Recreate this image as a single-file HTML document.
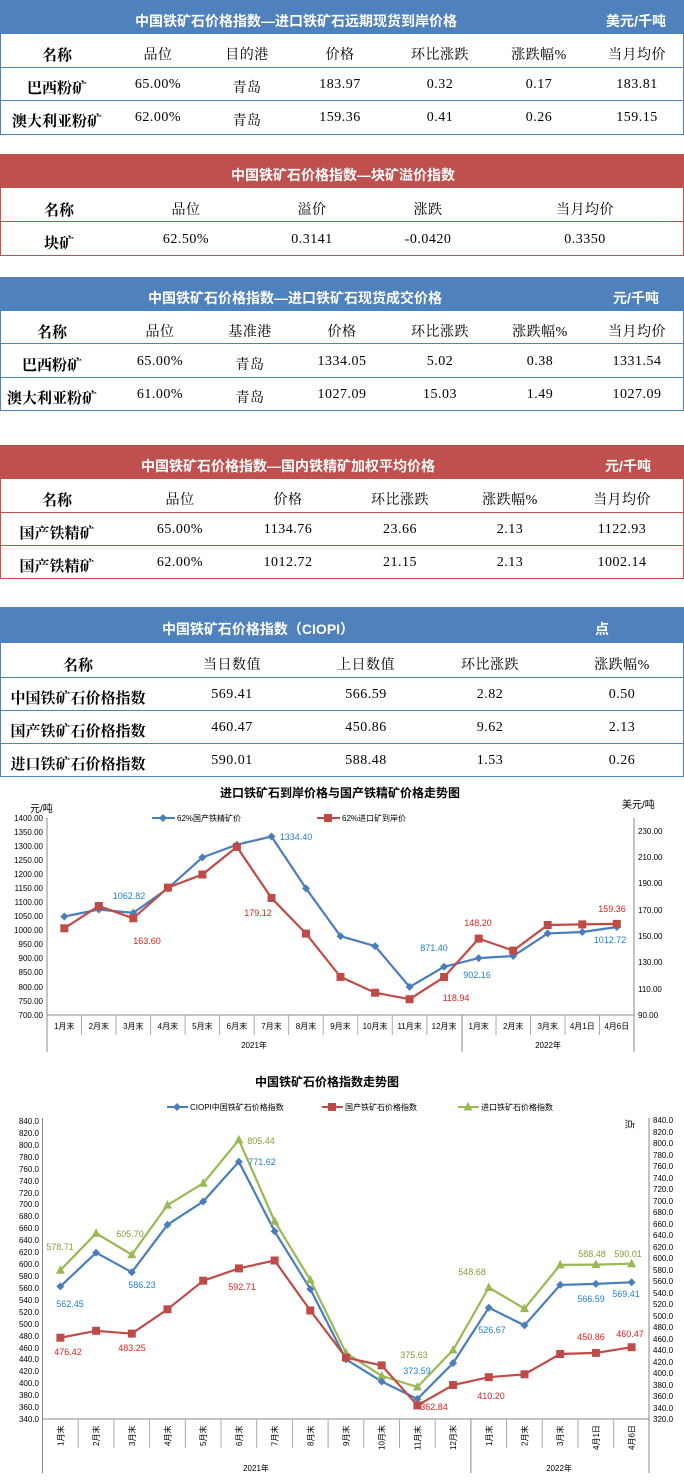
<!DOCTYPE html>
<html><head><meta charset="utf-8"><style>
*{margin:0;padding:0;box-sizing:border-box}
body{width:684px;height:1482px;background:#fff;position:relative;overflow:hidden;font-family:"Liberation Serif","Noto Serif CJK SC",serif;color:#000}
.hb{position:absolute;left:0;width:684px;background:#4f81bd}
.hr{position:absolute;left:0;width:684px;background:#c0504d}
.ht{position:absolute;color:#fff;font-family:"Liberation Sans","Noto Sans CJK SC",sans-serif;font-weight:bold;font-size:14px;transform:translateX(-50%);white-space:nowrap;margin-top:2px}
.ln{position:absolute;left:0;width:684px;height:1px}
.lb{background:#4f81bd}.lr{background:#c0504d}
.vb{position:absolute;width:1px}
.t{position:absolute;transform:translateX(-50%);white-space:nowrap;font-size:14px;margin-top:2px;letter-spacing:0.5px}
.b{font-weight:bold;font-size:15px;letter-spacing:0}
</style></head><body>

<!-- T1 -->
<div class="hb" style="top:0;height:34px"></div>
<div class="ht" style="left:296px;top:9px">中国铁矿石价格指数—进口铁矿石远期现货到岸价格</div>
<div class="ht" style="left:636px;top:9px">美元/千吨</div>
<div class="ln lb" style="top:67px"></div><div class="ln lb" style="top:100px"></div><div class="ln lb" style="top:134px"></div>
<div class="vb lb" style="left:0;top:34px;height:100px"></div><div class="vb lb" style="left:683px;top:34px;height:100px"></div>
<div class="t b" style="left:57px;top:42px">名称</div><div class="t" style="left:158px;top:42px">品位</div><div class="t" style="left:247px;top:42px">目的港</div><div class="t" style="left:340px;top:42px">价格</div><div class="t" style="left:440px;top:42px">环比涨跌</div><div class="t" style="left:539px;top:42px">涨跌幅%</div><div class="t" style="left:637px;top:42px">当月均价</div>
<div class="t b" style="left:57px;top:75px">巴西粉矿</div><div class="t" style="left:158px;top:75px">65.00%</div><div class="t" style="left:247px;top:75px">青岛</div><div class="t" style="left:340px;top:75px">183.97</div><div class="t" style="left:440px;top:75px">0.32</div><div class="t" style="left:539px;top:75px">0.17</div><div class="t" style="left:637px;top:75px">183.81</div>
<div class="t b" style="left:57px;top:108px">澳大利亚粉矿</div><div class="t" style="left:158px;top:108px">62.00%</div><div class="t" style="left:247px;top:108px">青岛</div><div class="t" style="left:340px;top:108px">159.36</div><div class="t" style="left:440px;top:108px">0.41</div><div class="t" style="left:539px;top:108px">0.26</div><div class="t" style="left:637px;top:108px">159.15</div>

<!-- T2 -->
<div class="hr" style="top:154px;height:34px"></div>
<div class="ht" style="left:343px;top:163px">中国铁矿石价格指数—块矿溢价指数</div>
<div class="ln lr" style="top:221px"></div><div class="ln lr" style="top:255px"></div>
<div class="vb lr" style="left:0;top:188px;height:67px"></div><div class="vb lr" style="left:683px;top:188px;height:67px"></div>
<div class="t b" style="left:59px;top:197px">名称</div><div class="t" style="left:186px;top:197px">品位</div><div class="t" style="left:312px;top:197px">溢价</div><div class="t" style="left:428px;top:197px">涨跌</div><div class="t" style="left:585px;top:197px">当月均价</div>
<div class="t b" style="left:59px;top:230px">块矿</div><div class="t" style="left:186px;top:230px">62.50%</div><div class="t" style="left:312px;top:230px">0.3141</div><div class="t" style="left:428px;top:230px">-0.0420</div><div class="t" style="left:585px;top:230px">0.3350</div>

<!-- T3 -->
<div class="hb" style="top:277px;height:34px"></div>
<div class="ht" style="left:295px;top:286px">中国铁矿石价格指数—进口铁矿石现货成交价格</div>
<div class="ht" style="left:636px;top:286px">元/千吨</div>
<div class="ln lb" style="top:343px"></div><div class="ln lb" style="top:377px"></div><div class="ln lb" style="top:410px"></div>
<div class="vb lb" style="left:0;top:311px;height:100px"></div><div class="vb lb" style="left:683px;top:311px;height:100px"></div>
<div class="t b" style="left:52px;top:319px">名称</div><div class="t" style="left:160px;top:319px">品位</div><div class="t" style="left:250px;top:319px">基准港</div><div class="t" style="left:342px;top:319px">价格</div><div class="t" style="left:440px;top:319px">环比涨跌</div><div class="t" style="left:540px;top:319px">涨跌幅%</div><div class="t" style="left:637px;top:319px">当月均价</div>
<div class="t b" style="left:52px;top:352px">巴西粉矿</div><div class="t" style="left:160px;top:352px">65.00%</div><div class="t" style="left:250px;top:352px">青岛</div><div class="t" style="left:342px;top:352px">1334.05</div><div class="t" style="left:440px;top:352px">5.02</div><div class="t" style="left:540px;top:352px">0.38</div><div class="t" style="left:637px;top:352px">1331.54</div>
<div class="t b" style="left:52px;top:385px">澳大利亚粉矿</div><div class="t" style="left:160px;top:385px">61.00%</div><div class="t" style="left:250px;top:385px">青岛</div><div class="t" style="left:342px;top:385px">1027.09</div><div class="t" style="left:440px;top:385px">15.03</div><div class="t" style="left:540px;top:385px">1.49</div><div class="t" style="left:637px;top:385px">1027.09</div>

<!-- T4 -->
<div class="hr" style="top:445px;height:34px"></div>
<div class="ht" style="left:288px;top:454px">中国铁矿石价格指数—国内铁精矿加权平均价格</div>
<div class="ht" style="left:628px;top:454px">元/千吨</div>
<div class="ln lr" style="top:512px"></div><div class="ln lr" style="top:545px"></div><div class="ln lr" style="top:578px"></div>
<div class="vb lr" style="left:0;top:479px;height:100px"></div><div class="vb lr" style="left:683px;top:479px;height:100px"></div>
<div class="t b" style="left:57px;top:487px">名称</div><div class="t" style="left:180px;top:487px">品位</div><div class="t" style="left:288px;top:487px">价格</div><div class="t" style="left:400px;top:487px">环比涨跌</div><div class="t" style="left:510px;top:487px">涨跌幅%</div><div class="t" style="left:622px;top:487px">当月均价</div>
<div class="t b" style="left:57px;top:520px">国产铁精矿</div><div class="t" style="left:180px;top:520px">65.00%</div><div class="t" style="left:288px;top:520px">1134.76</div><div class="t" style="left:400px;top:520px">23.66</div><div class="t" style="left:510px;top:520px">2.13</div><div class="t" style="left:622px;top:520px">1122.93</div>
<div class="t b" style="left:57px;top:553px">国产铁精矿</div><div class="t" style="left:180px;top:553px">62.00%</div><div class="t" style="left:288px;top:553px">1012.72</div><div class="t" style="left:400px;top:553px">21.15</div><div class="t" style="left:510px;top:553px">2.13</div><div class="t" style="left:622px;top:553px">1002.14</div>

<!-- T5 -->
<div class="hb" style="top:607px;height:36px"></div>
<div class="ht" style="left:258px;top:617px">中国铁矿石价格指数（CIOPI）</div>
<div class="ht" style="left:602px;top:617px">点</div>
<div class="ln lb" style="top:677px"></div><div class="ln lb" style="top:710px"></div><div class="ln lb" style="top:743px"></div><div class="ln lb" style="top:776px"></div>
<div class="vb lb" style="left:0;top:643px;height:134px"></div><div class="vb lb" style="left:683px;top:643px;height:134px"></div>
<div class="t b" style="left:78px;top:652px">名称</div><div class="t" style="left:232px;top:652px">当日数值</div><div class="t" style="left:366px;top:652px">上日数值</div><div class="t" style="left:490px;top:652px">环比涨跌</div><div class="t" style="left:622px;top:652px">涨跌幅%</div>
<div class="t b" style="left:78px;top:685px">中国铁矿石价格指数</div><div class="t" style="left:232px;top:685px">569.41</div><div class="t" style="left:366px;top:685px">566.59</div><div class="t" style="left:490px;top:685px">2.82</div><div class="t" style="left:622px;top:685px">0.50</div>
<div class="t b" style="left:78px;top:718px">国产铁矿石价格指数</div><div class="t" style="left:232px;top:718px">460.47</div><div class="t" style="left:366px;top:718px">450.86</div><div class="t" style="left:490px;top:718px">9.62</div><div class="t" style="left:622px;top:718px">2.13</div>
<div class="t b" style="left:78px;top:751px">进口铁矿石价格指数</div><div class="t" style="left:232px;top:751px">590.01</div><div class="t" style="left:366px;top:751px">588.48</div><div class="t" style="left:490px;top:751px">1.53</div><div class="t" style="left:622px;top:751px">0.26</div>

<svg width="684" height="1482" style="position:absolute;left:0;top:0" font-family="Liberation Sans,Noto Sans CJK SC,sans-serif">
<defs>
<path id="dm" d="M0,-4L4,0L0,4L-4,0Z" fill="#4a7ebb"/>
<rect id="sq" x="-4" y="-4" width="8" height="8" fill="#be4b48"/>
<path id="tr" d="M0,-5L4.5,3.5L-4.5,3.5Z" fill="#98b954"/>
</defs>
<!-- Chart 1 -->
<text x="340" y="797" font-size="12" font-weight="bold" text-anchor="middle">进口铁矿石到岸价格与国产铁精矿价格走势图</text>
<text x="30" y="812" font-size="10">元/吨</text>
<text x="622" y="808" font-size="10">美元/吨</text>
<line x1="152" y1="818" x2="175" y2="818" stroke="#4a7ebb" stroke-width="2"/><use href="#dm" x="163" y="818"/>
<text x="177" y="821" font-size="8">62%国产铁精矿价</text>
<line x1="317" y1="818" x2="340" y2="818" stroke="#be4b48" stroke-width="2"/><use href="#sq" x="328" y="818"/>
<text x="342" y="821" font-size="8">62%进口矿到岸价</text>
<g stroke="#888" stroke-width="1" fill="none">
<line x1="47" y1="818" x2="47" y2="1052"/><line x1="634" y1="818" x2="634" y2="1052"/><line x1="47" y1="1015" x2="634" y2="1015"/>
<line x1="462" y1="1015" x2="462" y2="1052"/>
</g>
<g stroke="#aaa" stroke-width="1">
<line x1="81.5" y1="1015" x2="81.5" y2="1035"/><line x1="116" y1="1015" x2="116" y2="1035"/><line x1="150.6" y1="1015" x2="150.6" y2="1035"/><line x1="185.1" y1="1015" x2="185.1" y2="1035"/><line x1="219.6" y1="1015" x2="219.6" y2="1035"/><line x1="254.2" y1="1015" x2="254.2" y2="1035"/><line x1="288.7" y1="1015" x2="288.7" y2="1035"/><line x1="323.2" y1="1015" x2="323.2" y2="1035"/><line x1="357.8" y1="1015" x2="357.8" y2="1035"/><line x1="392.3" y1="1015" x2="392.3" y2="1035"/><line x1="426.8" y1="1015" x2="426.8" y2="1035"/><line x1="496" y1="1015" x2="496" y2="1035"/><line x1="530.5" y1="1015" x2="530.5" y2="1035"/><line x1="565" y1="1015" x2="565" y2="1035"/><line x1="599.5" y1="1015" x2="599.5" y2="1035"/>
</g>
<g font-size="8" text-anchor="end">
<text x="43" y="821">1400.00</text><text x="43" y="835">1350.00</text><text x="43" y="849">1300.00</text><text x="43" y="863">1250.00</text><text x="43" y="877">1200.00</text><text x="43" y="891">1150.00</text><text x="43" y="905">1100.00</text><text x="43" y="919">1050.00</text><text x="43" y="933">1000.00</text><text x="43" y="947">950.00</text><text x="43" y="961">900.00</text><text x="43" y="975">850.00</text><text x="43" y="990">800.00</text><text x="43" y="1004">750.00</text><text x="43" y="1018">700.00</text>
</g>
<g font-size="8">
<text x="638" y="834">230.00</text><text x="638" y="860">210.00</text><text x="638" y="886">190.00</text><text x="638" y="913">170.00</text><text x="638" y="939">150.00</text><text x="638" y="965">130.00</text><text x="638" y="992">110.00</text><text x="638" y="1018">90.00</text>
</g>
<g font-size="8" text-anchor="middle">
<text x="64.3" y="1029">1月末</text><text x="98.8" y="1029">2月末</text><text x="133.3" y="1029">3月末</text><text x="167.9" y="1029">4月末</text><text x="202.4" y="1029">5月末</text><text x="236.9" y="1029">6月末</text><text x="271.5" y="1029">7月末</text><text x="306" y="1029">8月末</text><text x="340.5" y="1029">9月末</text><text x="375.1" y="1029">10月末</text><text x="409.6" y="1029">11月末</text><text x="444.1" y="1029">12月末</text><text x="478.7" y="1029">1月末</text><text x="513.2" y="1029">2月末</text><text x="547.7" y="1029">3月末</text><text x="582.3" y="1029">4月1日</text><text x="616.8" y="1029">4月6日</text>
<text x="254" y="1048">2021年</text><text x="548" y="1048">2022年</text>
</g>
<polyline fill="none" stroke="#4a7ebb" stroke-width="2.2" points="64.3,916.5 98.8,909.5 133.3,912.9 167.9,888.4 202.4,857.4 236.9,844.7 271.5,836.5 306,888.4 340.5,936.2 375.1,946.1 409.6,986.9 444.1,966.8 478.7,958.1 513.2,956 547.7,933.4 582.3,932 616.8,927"/>
<polyline fill="none" stroke="#be4b48" stroke-width="2.2" points="64.3,928.3 98.8,906 133.3,918.3 167.9,887.6 202.4,874.5 236.9,846.9 271.5,898 306,933.6 340.5,976.9 375.1,992.7 409.6,999.2 444.1,977 478.7,938.6 513.2,950.6 547.7,925 582.3,924.4 616.8,923.9"/>
<g>
<use href="#dm" x="64.3" y="916.5"/><use href="#dm" x="98.8" y="909.5"/><use href="#dm" x="133.3" y="912.9"/><use href="#dm" x="167.9" y="888.4"/><use href="#dm" x="202.4" y="857.4"/><use href="#dm" x="236.9" y="844.7"/><use href="#dm" x="271.5" y="836.5"/><use href="#dm" x="306" y="888.4"/><use href="#dm" x="340.5" y="936.2"/><use href="#dm" x="375.1" y="946.1"/><use href="#dm" x="409.6" y="986.9"/><use href="#dm" x="444.1" y="966.8"/><use href="#dm" x="478.7" y="958.1"/><use href="#dm" x="513.2" y="956"/><use href="#dm" x="547.7" y="933.4"/><use href="#dm" x="582.3" y="932"/><use href="#dm" x="616.8" y="927"/>
<use href="#sq" x="64.3" y="928.3"/><use href="#sq" x="98.8" y="906"/><use href="#sq" x="133.3" y="918.3"/><use href="#sq" x="167.9" y="887.6"/><use href="#sq" x="202.4" y="874.5"/><use href="#sq" x="236.9" y="846.9"/><use href="#sq" x="271.5" y="898"/><use href="#sq" x="306" y="933.6"/><use href="#sq" x="340.5" y="976.9"/><use href="#sq" x="375.1" y="992.7"/><use href="#sq" x="409.6" y="999.2"/><use href="#sq" x="444.1" y="977"/><use href="#sq" x="478.7" y="938.6"/><use href="#sq" x="513.2" y="950.6"/><use href="#sq" x="547.7" y="925"/><use href="#sq" x="582.3" y="924.4"/><use href="#sq" x="616.8" y="923.9"/>
</g>
<g font-size="9" text-anchor="middle">
<g fill="#1f7fd0"><text x="129" y="899">1062.82</text><text x="296" y="840">1334.40</text><text x="434" y="951">871.40</text><text x="477" y="978">902.16</text><text x="610" y="943">1012.72</text></g>
<g fill="#e02020"><text x="147" y="944">163.60</text><text x="258" y="916">179.12</text><text x="478" y="926">148.20</text><text x="456" y="1001">118.94</text><text x="612" y="912">159.36</text></g>
</g>

<!-- Chart 2 -->
<text x="327" y="1086" font-size="12" font-weight="bold" text-anchor="middle">中国铁矿石价格指数走势图</text>
<line x1="167" y1="1107" x2="188" y2="1107" stroke="#4a7ebb" stroke-width="2"/><use href="#dm" x="177" y="1107"/>
<text x="190" y="1110" font-size="8">CIOPI中国铁矿石价格指数</text>
<line x1="322" y1="1107" x2="343" y2="1107" stroke="#be4b48" stroke-width="2"/><use href="#sq" x="332" y="1107"/>
<text x="345" y="1110" font-size="8">国产铁矿石价格指数</text>
<line x1="458" y1="1107" x2="479" y2="1107" stroke="#98b954" stroke-width="2"/><use href="#tr" x="468" y="1107"/>
<text x="481" y="1110" font-size="8">进口铁矿石价格指数</text>
<text x="630" y="1128" font-size="10" text-anchor="middle" transform="rotate(90 630 1124)">点</text>
<g stroke="#888" stroke-width="1" fill="none">
<line x1="42.5" y1="1118" x2="42.5" y2="1473"/><line x1="649" y1="1118" x2="649" y2="1473"/><line x1="42.5" y1="1419" x2="649" y2="1419"/><line x1="470.9" y1="1419" x2="470.9" y2="1473"/>
</g>
<g stroke="#aaa" stroke-width="1">
<line x1="78.2" y1="1419" x2="78.2" y2="1448"/><line x1="113.9" y1="1419" x2="113.9" y2="1448"/><line x1="149.6" y1="1419" x2="149.6" y2="1448"/><line x1="185.3" y1="1419" x2="185.3" y2="1448"/><line x1="221" y1="1419" x2="221" y2="1448"/><line x1="256.7" y1="1419" x2="256.7" y2="1448"/><line x1="292.4" y1="1419" x2="292.4" y2="1448"/><line x1="328.1" y1="1419" x2="328.1" y2="1448"/><line x1="363.8" y1="1419" x2="363.8" y2="1448"/><line x1="399.5" y1="1419" x2="399.5" y2="1448"/><line x1="435.2" y1="1419" x2="435.2" y2="1448"/><line x1="506.6" y1="1419" x2="506.6" y2="1448"/><line x1="542.3" y1="1419" x2="542.3" y2="1448"/><line x1="578" y1="1419" x2="578" y2="1448"/><line x1="613.7" y1="1419" x2="613.7" y2="1448"/>
</g>
<g font-size="8" text-anchor="end">
<text x="39" y="1124">840.0</text><text x="39" y="1136">820.0</text><text x="39" y="1148">800.0</text><text x="39" y="1160">780.0</text><text x="39" y="1172">760.0</text><text x="39" y="1184">740.0</text><text x="39" y="1196">720.0</text><text x="39" y="1207">700.0</text><text x="39" y="1219">680.0</text><text x="39" y="1231">660.0</text><text x="39" y="1243">640.0</text><text x="39" y="1255">620.0</text><text x="39" y="1267">600.0</text><text x="39" y="1279">580.0</text><text x="39" y="1291">560.0</text><text x="39" y="1303">540.0</text><text x="39" y="1315">520.0</text><text x="39" y="1327">500.0</text><text x="39" y="1339">480.0</text><text x="39" y="1351">460.0</text><text x="39" y="1362">440.0</text><text x="39" y="1374">420.0</text><text x="39" y="1386">400.0</text><text x="39" y="1398">380.0</text><text x="39" y="1410">360.0</text><text x="39" y="1422">340.0</text>
</g>
<g font-size="8">
<text x="653" y="1123">840.0</text><text x="653" y="1135">820.0</text><text x="653" y="1146">800.0</text><text x="653" y="1158">780.0</text><text x="653" y="1169">760.0</text><text x="653" y="1181">740.0</text><text x="653" y="1192">720.0</text><text x="653" y="1204">700.0</text><text x="653" y="1215">680.0</text><text x="653" y="1227">660.0</text><text x="653" y="1238">640.0</text><text x="653" y="1250">620.0</text><text x="653" y="1261">600.0</text><text x="653" y="1273">580.0</text><text x="653" y="1284">560.0</text><text x="653" y="1296">540.0</text><text x="653" y="1307">520.0</text><text x="653" y="1319">500.0</text><text x="653" y="1330">480.0</text><text x="653" y="1342">460.0</text><text x="653" y="1353">440.0</text><text x="653" y="1365">420.0</text><text x="653" y="1376">400.0</text><text x="653" y="1388">380.0</text><text x="653" y="1399">360.0</text><text x="653" y="1411">340.0</text><text x="653" y="1422">320.0</text>
</g>
<g font-size="8">
<text transform="translate(63.4,1446) rotate(-90)">1月末</text><text transform="translate(99.1,1446) rotate(-90)">2月末</text><text transform="translate(134.8,1446) rotate(-90)">3月末</text><text transform="translate(170.5,1446) rotate(-90)">4月末</text><text transform="translate(206.2,1446) rotate(-90)">5月末</text><text transform="translate(241.9,1446) rotate(-90)">6月末</text><text transform="translate(277.6,1446) rotate(-90)">7月末</text><text transform="translate(313.3,1446) rotate(-90)">8月末</text><text transform="translate(349,1446) rotate(-90)">9月末</text><text transform="translate(384.7,1450) rotate(-90)">10月末</text><text transform="translate(420.4,1450) rotate(-90)">11月末</text><text transform="translate(456.1,1450) rotate(-90)">12月末</text><text transform="translate(491.8,1446) rotate(-90)">1月末</text><text transform="translate(527.5,1446) rotate(-90)">2月末</text><text transform="translate(563.2,1446) rotate(-90)">3月末</text><text transform="translate(598.9,1450) rotate(-90)">4月1日</text><text transform="translate(634.6,1450) rotate(-90)">4月6日</text>
</g>
<g font-size="8" text-anchor="middle"><text x="256" y="1471">2021年</text><text x="559" y="1471">2022年</text></g>
<polyline fill="none" stroke="#98b954" stroke-width="2.2" points="60.4,1270.2 96.1,1233.3 131.8,1254.7 167.5,1205.1 203.2,1183.3 238.9,1139.9 274.6,1221.2 310.3,1279.9 346,1352.9 381.7,1375.9 417.4,1387 453.1,1350 488.8,1287.5 524.5,1308.6 560.2,1264.9 595.9,1264.6 631.6,1263.7"/>
<polyline fill="none" stroke="#4a7ebb" stroke-width="2.2" points="60.4,1286.4 96.1,1252.7 131.8,1272.2 167.5,1224.7 203.2,1201.5 238.9,1161.7 274.6,1231.3 310.3,1289.1 346,1359.4 381.7,1381.5 417.4,1399 453.1,1363 488.8,1307.7 524.5,1325.4 560.2,1284.9 595.9,1283.9 631.6,1282.3"/>
<polyline fill="none" stroke="#be4b48" stroke-width="2.2" points="60.4,1337.7 96.1,1330.8 131.8,1333.6 167.5,1309.3 203.2,1280.7 238.9,1268.4 274.6,1260.5 310.3,1310.5 346,1357.6 381.7,1365.4 417.4,1405.4 453.1,1385 488.8,1377.2 524.5,1374.3 560.2,1354 595.9,1352.9 631.6,1347.2"/>
<g>
<use href="#tr" x="60.4" y="1270.2"/><use href="#tr" x="96.1" y="1233.3"/><use href="#tr" x="131.8" y="1254.7"/><use href="#tr" x="167.5" y="1205.1"/><use href="#tr" x="203.2" y="1183.3"/><use href="#tr" x="238.9" y="1139.9"/><use href="#tr" x="274.6" y="1221.2"/><use href="#tr" x="310.3" y="1279.9"/><use href="#tr" x="346" y="1352.9"/><use href="#tr" x="381.7" y="1375.9"/><use href="#tr" x="417.4" y="1387"/><use href="#tr" x="453.1" y="1350"/><use href="#tr" x="488.8" y="1287.5"/><use href="#tr" x="524.5" y="1308.6"/><use href="#tr" x="560.2" y="1264.9"/><use href="#tr" x="595.9" y="1264.6"/><use href="#tr" x="631.6" y="1263.7"/>
<use href="#dm" x="60.4" y="1286.4"/><use href="#dm" x="96.1" y="1252.7"/><use href="#dm" x="131.8" y="1272.2"/><use href="#dm" x="167.5" y="1224.7"/><use href="#dm" x="203.2" y="1201.5"/><use href="#dm" x="238.9" y="1161.7"/><use href="#dm" x="274.6" y="1231.3"/><use href="#dm" x="310.3" y="1289.1"/><use href="#dm" x="346" y="1359.4"/><use href="#dm" x="381.7" y="1381.5"/><use href="#dm" x="417.4" y="1399"/><use href="#dm" x="453.1" y="1363"/><use href="#dm" x="488.8" y="1307.7"/><use href="#dm" x="524.5" y="1325.4"/><use href="#dm" x="560.2" y="1284.9"/><use href="#dm" x="595.9" y="1283.9"/><use href="#dm" x="631.6" y="1282.3"/>
<use href="#sq" x="60.4" y="1337.7"/><use href="#sq" x="96.1" y="1330.8"/><use href="#sq" x="131.8" y="1333.6"/><use href="#sq" x="167.5" y="1309.3"/><use href="#sq" x="203.2" y="1280.7"/><use href="#sq" x="238.9" y="1268.4"/><use href="#sq" x="274.6" y="1260.5"/><use href="#sq" x="310.3" y="1310.5"/><use href="#sq" x="346" y="1357.6"/><use href="#sq" x="381.7" y="1365.4"/><use href="#sq" x="417.4" y="1405.4"/><use href="#sq" x="453.1" y="1385"/><use href="#sq" x="488.8" y="1377.2"/><use href="#sq" x="524.5" y="1374.3"/><use href="#sq" x="560.2" y="1354"/><use href="#sq" x="595.9" y="1352.9"/><use href="#sq" x="631.6" y="1347.2"/>
</g>
<g font-size="9" text-anchor="middle">
<g fill="#8a9a3a"><text x="60" y="1250">578.71</text><text x="130" y="1237">605.70</text><text x="261" y="1144">805.44</text><text x="414" y="1358">375.63</text><text x="472" y="1275">548.68</text><text x="592" y="1257">588.48</text><text x="628" y="1257">590.01</text></g>
<g fill="#1f7fd0"><text x="70" y="1307">562.45</text><text x="142" y="1288">586.23</text><text x="262" y="1165">771.62</text><text x="417" y="1374">373.59</text><text x="492" y="1333">526.67</text><text x="591" y="1302">566.59</text><text x="626" y="1297">569.41</text></g>
<g fill="#e02020"><text x="68" y="1355">476.42</text><text x="132" y="1351">483.25</text><text x="242" y="1290">592.71</text><text x="434" y="1410">362.84</text><text x="491" y="1399">410.20</text><text x="591" y="1340">450.86</text><text x="630" y="1337">460.47</text></g>
</g>
</svg>
</body></html>
